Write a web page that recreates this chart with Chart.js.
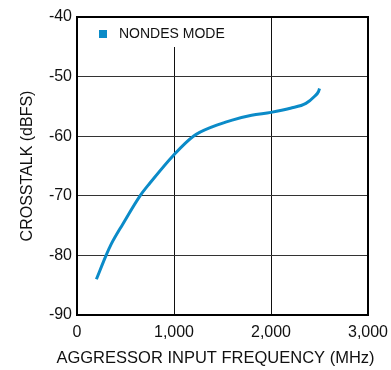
<!DOCTYPE html>
<html>
<head>
<meta charset="utf-8">
<script src="https://cdn.jsdelivr.net/npm/chart.js@4"></script>
<style>
  html, body { margin: 0; padding: 0; background: #fff; }
  #wrap { width: 391px; height: 370px; }
</style>
</head>
<body>
<div id="wrap"><canvas id="chart"></canvas></div>
<script>
const freqMHz = [200, 300, 350, 470, 650, 750, 1000, 1200, 1400, 1600, 1800, 2000, 2200, 2360, 2450, 2490, 2500];
const crosstalk = [-84.0, -80.0, -78.2, -74.8, -70.0, -67.9, -63.1, -60.0, -58.4, -57.3, -56.5, -56.0, -55.3, -54.5, -53.3, -52.5, -52.0];
const xTicks = [0, 1000, 2000, 3000];
const yTicks = [-90, -80, -70, -60, -50, -40];
const seriesName = "NONDES MODE";
const xTitle = "AGGRESSOR INPUT FREQUENCY (MHz)";
const yTitle = "CROSSTALK (dBFS)";
const lineColor = "#0b8bc8";

const FONT = "'Liberation Sans', Arial, sans-serif";

// heavy box round the plot area
const frame = {
  id: "frame",
  afterDraw(chart) {
    const { ctx, chartArea: a } = chart;
    ctx.save();
    ctx.strokeStyle = "#000";
    ctx.lineWidth = 2;
    ctx.strokeRect(a.left, a.top, a.right - a.left, a.bottom - a.top);
    ctx.restore();
  }
};

// x title is wider than the plot, so the scale title would squeeze it
const xTitlePlugin = {
  id: "xTitle",
  afterDraw(chart) {
    const { ctx, chartArea: a } = chart;
    ctx.save();
    ctx.fillStyle = "#111";
    ctx.font = "16.5px " + FONT;
    ctx.textAlign = "center";
    ctx.textBaseline = "middle";
    ctx.fillText(xTitle, (a.left + a.right) / 2 - 7, a.bottom + 43);
    ctx.restore();
  }
};

// legend sits inside the plot and blanks the grid behind it
const legendBox = {
  id: "legendBox",
  beforeDatasetsDraw(chart) {
    const { ctx, chartArea: a } = chart;
    ctx.save();
    ctx.fillStyle = "#fff";
    ctx.fillRect(a.left + 8, a.top + 1, 160, 29);
    ctx.fillStyle = lineColor;
    ctx.fillRect(a.left + 22, a.top + 13, 8, 8);
    ctx.fillStyle = "#111";
    ctx.font = "14px " + FONT;
    ctx.textBaseline = "middle";
    ctx.fillText(seriesName, a.left + 42, a.top + 17);
    ctx.restore();
  }
};

new Chart(document.getElementById("chart"), {
  type: "line",
  data: {
    datasets: [{
      label: seriesName,
      data: freqMHz.map((f, i) => ({ x: f, y: crosstalk[i] })),
      borderColor: lineColor,
      borderWidth: 3,
      pointRadius: 0,
      cubicInterpolationMode: "monotone",
      fill: false
    }]
  },
  options: {
    responsive: true,
    maintainAspectRatio: false,
    animation: false,
    layout: { padding: { top: 17, right: 23, left: 0, bottom: 0 } },
    plugins: { legend: { display: false }, tooltip: { enabled: false } },
    scales: {
      x: {
        type: "linear",
        min: 0,
        max: 3000,
        afterBuildTicks: (s) => { s.ticks = xTicks.map(v => ({ value: v })); },
        afterFit: (s) => { s.height = 55; s.paddingLeft = 0; s.paddingRight = 0; },
        grid: { color: "#111", lineWidth: 1, drawTicks: false },
        border: { display: false },
        ticks: {
          color: "#111",
          font: { family: FONT, size: 16 },
          padding: 8,
          maxRotation: 0,
          callback: (v) => v.toLocaleString("en-US")
        },
        title: { display: false }
      },
      y: {
        min: -90,
        max: -40,
        afterBuildTicks: (s) => { s.ticks = yTicks.map(v => ({ value: v })); },
        afterFit: (s) => { s.width = 77; s.paddingTop = 0; s.paddingBottom = 0; },
        grid: { color: "#333", lineWidth: 1, drawTicks: false },
        border: { display: false },
        ticks: {
          color: "#111",
          font: { family: FONT, size: 16 },
          padding: 5
        },
        title: {
          display: true,
          text: yTitle,
          color: "#111",
          font: { family: FONT, size: 16 },
          padding: { top: 18, bottom: 0 }
        }
      }
    }
  },
  plugins: [legendBox, frame, xTitlePlugin]
});
</script>
</body>
</html>
